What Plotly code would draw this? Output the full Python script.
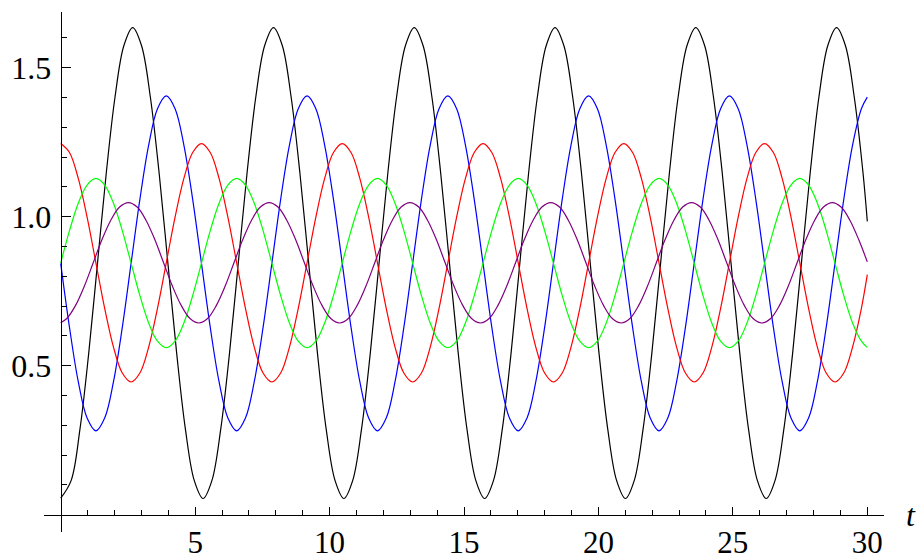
import plotly.graph_objects as go

# sample times (sixteenth-period positions)
t_base = [0, 0.327, 0.654, 0.982, 1.309, 1.636, 1.963, 2.291, 2.618, 2.945, 3.272, 3.600, 3.927, 4.254, 4.581, 4.909,
          5.236, 5.563, 5.890, 6.218, 6.545, 6.872, 7.199, 7.527, 7.854, 8.181, 8.508, 8.836, 9.163, 9.490, 9.817, 10.145,
          10.472, 10.799, 11.126, 11.454, 11.781, 12.108, 12.435, 12.763, 13.090, 13.417, 13.744, 14.072, 14.399, 14.726, 15.053, 15.381,
          15.708, 16.035, 16.362, 16.690, 17.017, 17.344, 17.671, 17.999, 18.326, 18.653, 18.980, 19.308, 19.635, 19.962, 20.289, 20.617,
          20.944, 21.271, 21.598, 21.926, 22.253, 22.580, 22.907, 23.235, 23.562, 23.889, 24.216, 24.544, 24.871, 25.198, 25.525, 25.853,
          26.180, 26.507, 26.834, 27.162, 27.489, 27.816, 28.143, 28.471, 28.798, 29.125, 29.452, 29.780,
          30]

t_black = [0, 0.387, 0.714, 1.042, 1.369, 1.696, 2.023, 2.351, 2.678, 3.005, 3.332, 3.660, 3.987, 4.314, 4.641, 4.969,
           5.296, 5.623, 5.950, 6.278, 6.605, 6.932, 7.259, 7.587, 7.914, 8.241, 8.568, 8.896, 9.223, 9.550, 9.877, 10.205,
           10.532, 10.859, 11.186, 11.514, 11.841, 12.168, 12.495, 12.823, 13.150, 13.477, 13.804, 14.132, 14.459, 14.786, 15.113, 15.441,
           15.768, 16.095, 16.422, 16.750, 17.077, 17.404, 17.731, 18.059, 18.386, 18.713, 19.040, 19.368, 19.695, 20.022, 20.349, 20.677,
           21.004, 21.331, 21.658, 21.986, 22.313, 22.640, 22.967, 23.295, 23.622, 23.949, 24.276, 24.604, 24.931, 25.258, 25.585, 25.913,
           26.240, 26.567, 26.894, 27.222, 27.549, 27.876, 28.203, 28.531, 28.858, 29.185, 29.512, 29.840,
           30]

t_purple = [0, 0.227, 0.554, 0.882, 1.209, 1.536, 1.863, 2.191, 2.518, 2.845, 3.172, 3.500, 3.827, 4.154, 4.481, 4.809,
            5.136, 5.463, 5.790, 6.118, 6.445, 6.772, 7.099, 7.427, 7.754, 8.081, 8.408, 8.736, 9.063, 9.390, 9.717, 10.045,
            10.372, 10.699, 11.026, 11.354, 11.681, 12.008, 12.335, 12.663, 12.990, 13.317, 13.644, 13.972, 14.299, 14.626, 14.953, 15.281,
            15.608, 15.935, 16.262, 16.590, 16.917, 17.244, 17.571, 17.899, 18.226, 18.553, 18.880, 19.208, 19.535, 19.862, 20.189, 20.517,
            20.844, 21.171, 21.498, 21.826, 22.153, 22.480, 22.807, 23.135, 23.462, 23.789, 24.116, 24.444, 24.771, 25.098, 25.425, 25.753,
            26.080, 26.407, 26.734, 27.062, 27.389, 27.716, 28.043, 28.371, 28.698, 29.025, 29.352, 29.680,
            30]

black_vals = [0.055, 0.114, 0.285, 0.541, 0.844, 1.147, 1.403, 1.574, 1.634, 1.574, 1.403, 1.147, 0.844, 0.541, 0.285, 0.114,
              0.054, 0.114, 0.285, 0.541, 0.844, 1.147, 1.403, 1.574, 1.634, 1.574, 1.403, 1.147, 0.844, 0.541, 0.285, 0.114,
              0.054, 0.114, 0.285, 0.541, 0.844, 1.147, 1.403, 1.574, 1.634, 1.574, 1.403, 1.147, 0.844, 0.541, 0.285, 0.114,
              0.054, 0.114, 0.285, 0.541, 0.844, 1.147, 1.403, 1.574, 1.634, 1.574, 1.403, 1.147, 0.844, 0.541, 0.285, 0.114,
              0.054, 0.114, 0.285, 0.541, 0.844, 1.147, 1.403, 1.574, 1.634, 1.574, 1.403, 1.147, 0.844, 0.541, 0.285, 0.114,
              0.054, 0.114, 0.285, 0.541, 0.844, 1.147, 1.403, 1.574, 1.634, 1.574, 1.403, 1.147,
              0.984]

blue_vals = [0.843, 0.628, 0.446, 0.324, 0.281, 0.324, 0.446, 0.628, 0.843, 1.058, 1.240, 1.362, 1.405, 1.362, 1.240, 1.058,
             0.843, 0.628, 0.446, 0.324, 0.281, 0.324, 0.446, 0.628, 0.843, 1.058, 1.240, 1.362, 1.405, 1.362, 1.240, 1.058,
             0.843, 0.628, 0.446, 0.324, 0.281, 0.324, 0.446, 0.628, 0.843, 1.058, 1.240, 1.362, 1.405, 1.362, 1.240, 1.058,
             0.843, 0.628, 0.446, 0.324, 0.281, 0.324, 0.446, 0.628, 0.843, 1.058, 1.240, 1.362, 1.405, 1.362, 1.240, 1.058,
             0.843, 0.628, 0.446, 0.324, 0.281, 0.324, 0.446, 0.628, 0.843, 1.058, 1.240, 1.362, 1.405, 1.362, 1.240, 1.058,
             0.843, 0.628, 0.446, 0.324, 0.281, 0.324, 0.446, 0.628, 0.843, 1.058, 1.240, 1.362,
             1.401]

red_vals = [1.245, 1.215, 1.128, 0.998, 0.845, 0.692, 0.562, 0.475, 0.445, 0.475, 0.562, 0.692, 0.845, 0.998, 1.128, 1.215,
            1.245, 1.215, 1.128, 0.998, 0.845, 0.692, 0.562, 0.475, 0.445, 0.475, 0.562, 0.692, 0.845, 0.998, 1.128, 1.215,
            1.245, 1.215, 1.128, 0.998, 0.845, 0.692, 0.562, 0.475, 0.445, 0.475, 0.562, 0.692, 0.845, 0.998, 1.128, 1.215,
            1.245, 1.215, 1.128, 0.998, 0.845, 0.692, 0.562, 0.475, 0.445, 0.475, 0.562, 0.692, 0.845, 0.998, 1.128, 1.215,
            1.245, 1.215, 1.128, 0.998, 0.845, 0.692, 0.562, 0.475, 0.445, 0.475, 0.562, 0.692, 0.845, 0.998, 1.128, 1.215,
            1.245, 1.215, 1.128, 0.998, 0.845, 0.692, 0.562, 0.475, 0.445, 0.475, 0.562, 0.692,
            0.805]

green_vals = [0.844, 0.953, 1.045, 1.106, 1.128, 1.106, 1.045, 0.953, 0.844, 0.735, 0.643, 0.582, 0.560, 0.582, 0.643, 0.735,
              0.844, 0.953, 1.045, 1.106, 1.128, 1.106, 1.045, 0.953, 0.844, 0.735, 0.643, 0.582, 0.560, 0.582, 0.643, 0.735,
              0.844, 0.953, 1.045, 1.106, 1.128, 1.106, 1.045, 0.953, 0.844, 0.735, 0.643, 0.582, 0.560, 0.582, 0.643, 0.735,
              0.844, 0.953, 1.045, 1.106, 1.128, 1.106, 1.045, 0.953, 0.844, 0.735, 0.643, 0.582, 0.560, 0.582, 0.643, 0.735,
              0.844, 0.953, 1.045, 1.106, 1.128, 1.106, 1.045, 0.953, 0.844, 0.735, 0.643, 0.582, 0.560, 0.582, 0.643, 0.735,
              0.844, 0.953, 1.045, 1.106, 1.128, 1.106, 1.045, 0.953, 0.844, 0.735, 0.643, 0.582,
              0.561]

purple_vals = [0.644, 0.658, 0.702, 0.767, 0.845, 0.923, 0.988, 1.032, 1.047, 1.032, 0.988, 0.923, 0.845, 0.767, 0.702, 0.658,
               0.643, 0.658, 0.702, 0.767, 0.845, 0.923, 0.988, 1.032, 1.047, 1.032, 0.988, 0.923, 0.845, 0.767, 0.702, 0.658,
               0.643, 0.658, 0.702, 0.767, 0.845, 0.923, 0.988, 1.032, 1.047, 1.032, 0.988, 0.923, 0.845, 0.767, 0.702, 0.658,
               0.643, 0.658, 0.702, 0.767, 0.845, 0.923, 0.988, 1.032, 1.047, 1.032, 0.988, 0.923, 0.845, 0.767, 0.702, 0.658,
               0.643, 0.658, 0.702, 0.767, 0.845, 0.923, 0.988, 1.032, 1.047, 1.032, 0.988, 0.923, 0.845, 0.767, 0.702, 0.658,
               0.643, 0.658, 0.702, 0.767, 0.845, 0.923, 0.988, 1.032, 1.047, 1.032, 0.988, 0.923,
               0.848]

x_tick_vals = [5, 10, 15, 20, 25, 30]
x_tick_text = ["5", "10", "15", "20", "25", "30"]
x_minor_vals = [1, 2, 3, 4, 6, 7, 8, 9, 11, 12, 13, 14, 16, 17, 18, 19,
                21, 22, 23, 24, 26, 27, 28, 29]
y_tick_vals = [0.5, 1.0, 1.5]
y_tick_text = ["0.5", "1.0", "1.5"]
y_minor_vals = [0.1, 0.2, 0.3, 0.4, 0.6, 0.7, 0.8, 0.9, 1.1, 1.2, 1.3, 1.4, 1.6]

series = [
    (t_black, black_vals, "#000000"),
    (t_base, blue_vals, "#0000FF"),
    (t_base, red_vals, "#FF0000"),
    (t_base, green_vals, "#00FF00"),
    (t_purple, purple_vals, "#800080"),
]

fig = go.Figure()
for tt, vv, col in series:
    fig.add_trace(go.Scatter(x=tt, y=vv, mode="lines",
                             line=dict(color=col, width=1.2, shape="spline"),
                             showlegend=False, hoverinfo="skip"))

FONT = "Liberation Serif, Times New Roman, serif"
XR = [-0.621, 30.621]
YR = [-0.0584, 1.6866]

fig.update_layout(
    template="none",
    width=919, height=559,
    margin=dict(l=44, r=35, t=12, b=27, pad=0),
    paper_bgcolor="white", plot_bgcolor="white",
    showlegend=False,
    xaxis=dict(
        range=XR, anchor="free", position=(0 - YR[0]) / (YR[1] - YR[0]),
        showline=True, linecolor="black", linewidth=1.2,
        showgrid=False, zeroline=False, automargin=False,
        ticks="inside", ticklen=8, tickwidth=1, tickcolor="black",
        tickmode="array", tickvals=x_tick_vals, ticktext=x_tick_text,
        tickfont=dict(family=FONT, size=31, color="black"),
        ticklabelstandoff=0,
        minor=dict(ticks="inside", ticklen=5, tickwidth=1, tickcolor="black",
                   tickmode="array", tickvals=x_minor_vals, showgrid=False),
    ),
    yaxis=dict(
        range=YR, anchor="free", position=(0 - XR[0]) / (XR[1] - XR[0]),
        showline=True, linecolor="black", linewidth=1.2,
        showgrid=False, zeroline=False, automargin=False,
        ticks="inside", ticklen=9, tickwidth=1, tickcolor="black",
        tickmode="array", tickvals=y_tick_vals, ticktext=y_tick_text,
        tickfont=dict(family=FONT, size=32, color="black"),
        ticklabelstandoff=3,
        minor=dict(ticks="inside", ticklen=5, tickwidth=1, tickcolor="black",
                   tickmode="array", tickvals=y_minor_vals, showgrid=False),
    ),
    annotations=[dict(text="<i>t</i>", xref="paper", yref="y",
                      x=1 + (911 - 884) / 840, y=0, xanchor="center", yanchor="middle",
                      showarrow=False, font=dict(family=FONT, size=32, color="black"))],
)

fig.write_html("out.html",
               config={"displayModeBar": False, "staticPlot": True},
               post_script="document.body.style.margin='0';document.body.style.overflow='hidden';")
